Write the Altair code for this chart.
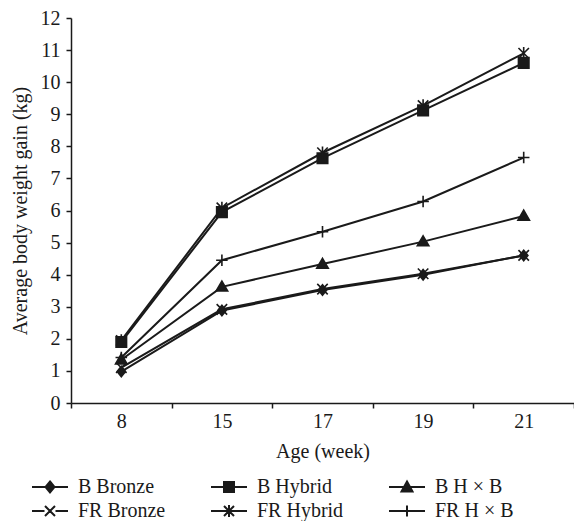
import altair as alt
import pandas as pd

weeks = ["8", "15", "17", "19", "21"]
series = ["B Bronze", "B Hybrid", "B H × B", "FR Bronze", "FR Hybrid", "FR H × B"]
b_bronze = [0.98, 2.88, 3.52, 4.0, 4.6]
b_hybrid = [1.9, 5.95, 7.63, 9.12, 10.6]
b_hxb = [1.35, 3.62, 4.33, 5.03, 5.83]
fr_bronze = [1.1, 2.92, 3.55, 4.03, 4.6]
fr_hybrid = [1.95, 6.08, 7.8, 9.27, 10.9]
fr_hxb = [1.42, 4.45, 5.34, 6.28, 7.65]

all_vals = [b_bronze, b_hybrid, b_hxb, fr_bronze, fr_hybrid, fr_hxb]
rows = []
for name, vals in zip(series, all_vals):
    for w, v in zip(weeks, vals):
        rows.append({"Week": w, "Series": name, "Gain": v})
df = pd.DataFrame(rows)

FONT = "Liberation Serif"
FS = 20
INK = "#1a1a1a"

plot_paths = [
    "M0,-1L0.8,0L0,1L-0.8,0Z",
    "M-1,-1L1,-1L1,1L-1,1Z",
    "M0,-1.1L1.1,0.8L-1.1,0.8Z",
    "M-1,-1L1,1M-1,1L1,-1",
    "M-1,-1L1,1M-1,1L1,-1M0,-1.2L0,1.2",
    "M-1.1,0L1.1,0M0,-1.1L0,1.1",
]
legend_paths = [
    "M-1.8,0L1.8,0M0,-0.55L0.45,0L0,0.55L-0.45,0Z",
    "M-1.8,0L1.8,0M-0.5,-0.5L0.5,-0.5L0.5,0.5L-0.5,0.5Z",
    "M-1.8,0L1.8,0M0,-0.55L0.55,0.45L-0.55,0.45Z",
    "M-1.8,0L-0.55,0M0.55,0L1.8,0M-0.5,-0.5L0.5,0.5M-0.5,0.5L0.5,-0.5",
    "M-1.8,0L1.8,0M-0.5,-0.5L0.5,0.5M-0.5,0.5L0.5,-0.5M0,-0.6L0,0.6",
    "M-1.8,0L1.8,0M0,-0.55L0,0.55",
]

x_enc = alt.X(
    "Week:O",
    sort=weeks,
    scale=alt.Scale(type="band", paddingInner=0, paddingOuter=0),
    bandPosition=0.5,
    axis=alt.Axis(
        title="Age (week)",
        tickBand="extent",
        labelAngle=0,
        labelPadding=3,
        titlePadding=10,
    ),
)
y_enc = alt.Y(
    "Gain:Q",
    scale=alt.Scale(domain=[0, 12], nice=False, zero=True),
    axis=alt.Axis(
        title="Average body weight gain (kg)",
        values=list(range(13)),
        labelPadding=6,
        titlePadding=10,
    ),
)

base = alt.Chart(df)

lines = base.mark_line(color=INK, strokeWidth=2).encode(
    x=x_enc, y=y_enc, detail="Series:N"
)

points = base.mark_point(
    fill=INK, stroke=INK, strokeWidth=1.6, opacity=1, size=110
).encode(
    x=x_enc,
    y=y_enc,
    shape=alt.Shape(
        "Series:N",
        scale=alt.Scale(domain=series, range=plot_paths),
        legend=None,
    ),
)

leg = alt.Legend(
    title=None,
    orient="none",
    direction="horizontal",
    legendX=-32,
    legendY=458,
    columns=3,
    columnPadding=41,
    rowPadding=3,
    labelOffset=17,
    symbolSize=400,
    symbolStrokeWidth=2,
    symbolFillColor=INK,
    symbolStrokeColor=INK,
    labelFont=FONT,
    labelFontSize=FS,
    labelColor=INK,
    padding=0,
)

legend_layer = (
    base.transform_filter("datum.Gain < -100")
    .mark_point(fill=INK, strokeWidth=2, opacity=1, size=400)
    .encode(
        x=x_enc,
        y=y_enc,
        shape=alt.Shape(
            "Series:N",
            scale=alt.Scale(domain=series, range=legend_paths),
            legend=leg,
        ),
        stroke=alt.Stroke(
            "Series:N",
            scale=alt.Scale(domain=series, range=[INK] * len(series)),
            legend=leg,
        ),
    )
)

chart = (
    alt.layer(lines, points, legend_layer)
    .resolve_scale(shape="independent", stroke="independent")
    .resolve_legend(shape="independent", stroke="independent")
    .properties(
        width=503,
        height=385,
        autosize=alt.AutoSizeParams(type="none"),
        padding={"left": 63, "top": 10, "right": 0, "bottom": 118},
    )
    .configure_view(stroke=None)
    .configure_axis(
        domainColor=INK,
        domainWidth=1.5,
        tickColor=INK,
        tickWidth=1.5,
        tickSize=5,
        labelFont=FONT,
        labelFontSize=FS,
        labelColor=INK,
        titleFont=FONT,
        titleFontSize=FS,
        titleFontWeight="normal",
        titleColor=INK,
        grid=False,
    )
)

chart.save("out.html", embed_options={"renderer": "svg", "actions": False})
